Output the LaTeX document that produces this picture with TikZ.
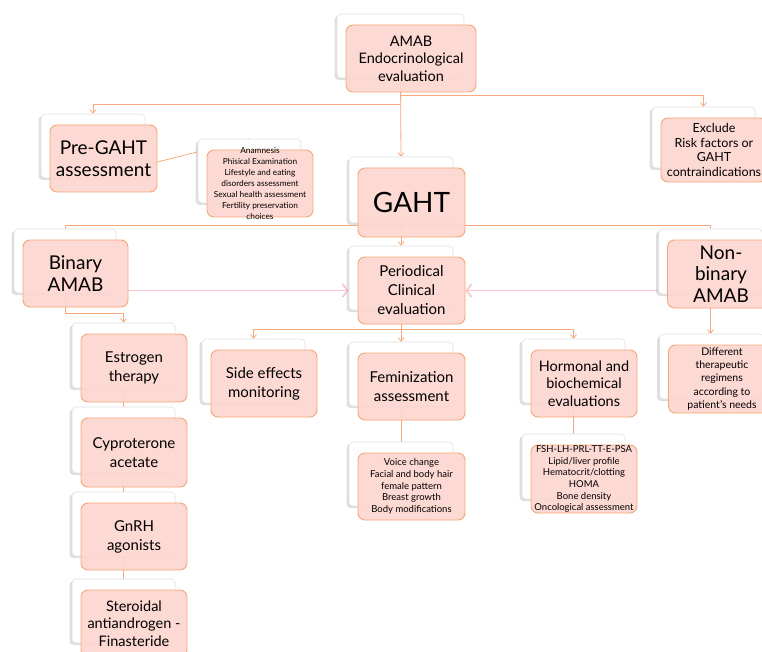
\documentclass[tikz,border=0pt]{standalone}
\usepackage{fontspec}
\setmainfont{Lato}
\usetikzlibrary{positioning, arrows.meta, calc, shadows, backgrounds}
\definecolor{cardpink}{RGB}{253,214,208}
\definecolor{cardedge}{RGB}{245,166,120}
\definecolor{linkorange}{RGB}{247,168,124}
\definecolor{flowpink}{RGB}{248,198,208}

\tikzset{
  backcard/.style={draw=black!12, fill=white, rounded corners=4pt, line width=0.6pt,
    drop shadow={shadow xshift=-2.5pt, shadow yshift=-2pt, opacity=0.25}},
  frontcard/.style={draw=cardedge, fill=cardpink, fill opacity=0.92, rounded corners=7pt, line width=0.9pt},
  cardtext/.style={align=center, inner sep=0pt, text=black},
  link/.style={draw=linkorange, line width=0.8pt},
  linkarrow/.style={link, -{Straight Barb[length=3.5pt, width=6pt]}},
  flow/.style={draw=flowpink, line width=1.8pt, -{Straight Barb[length=5pt, width=13pt]}},
  hugetext/.style={font=\fontsize{28}{32}\selectfont},
  bigtext/.style={font=\fontsize{19}{21.5}\selectfont},
  midtext/.style={font=\fontsize{15}{19}\selectfont},
  headtext/.style={font=\fontsize{14.5}{17.5}\selectfont},
  smalltext/.style={font=\fontsize{12.5}{14.7}\selectfont},
  notetext/.style={font=\fontsize{10.5}{13.3}\selectfont},
  listtext/.style={font=\fontsize{9.5}{11.7}\selectfont},
  tinytext/.style={font=\fontsize{8.3}{11}\selectfont}
}

% name, x, y, width, height, text style, text
\newcommand{\cardpair}[7]{%
  \node[backcard, minimum width=#4-3, minimum height=#5-3] (#1-b) at (#2-10.5,#3-12.5) {};
  \node[frontcard, minimum width=#4, minimum height=#5] (#1) at (#2,#3) {};
  \node[cardtext, #6] (#1-t) at (#1.center) {#7};
}

\begin{document}
\begin{tikzpicture}[x=1pt, y=-1pt]
    \useasboundingbox (0,0) rectangle (762,652);

    % top level
    \cardpair{amab}{411}{58.5}{130}{67}{headtext}{AMAB\\Endocrinological\\evaluation}
    \cardpair{pregaht}{103.5}{158.5}{107}{67}{bigtext}{Pre-GAHT\\assessment}
    \cardpair{detail}{260}{183.5}{106}{67}{tinytext}{Anamnesis\\Phisical Examination\\Lifestyle and eating\\disorders assessment\\Sexual health assessment\\Fertility preservation\\choices}
    \cardpair{exclude}{714}{150}{106}{64}{smalltext}{Exclude\\Risk factors or\\GAHT\\contraindications}
    \cardpair{gaht}{411.5}{202.5}{107}{69}{hugetext}{GAHT}

    % second level
    \cardpair{binary}{75.5}{273.5}{105}{67}{bigtext}{Binary\\AMAB}
    \cardpair{period}{411.5}{290.5}{107}{67}{midtext}{Periodical\\Clinical\\evaluation}
    \cardpair{nonbin}{721}{274}{107}{68}{bigtext}{Non-\\binary\\AMAB}

    % binary column
    \cardpair{estro}{134}{368}{106}{68}{midtext}{Estrogen\\therapy}
    \cardpair{cypro}{134}{452.5}{106}{69}{midtext}{Cyproterone\\acetate}
    \cardpair{gnrh}{134}{536.5}{106}{67}{midtext}{GnRH\\agonists}
    \cardpair{steroid}{134}{623.5}{106}{67}{headtext}{Steroidal\\antiandrogen -\\Finasteride}

    % evaluation branches
    \cardpair{side}{264}{383.5}{106}{67}{midtext}{Side effects\\monitoring}
    \cardpair{femin}{411.5}{386.5}{107}{67}{midtext}{Feminization\\assessment}
    \cardpair{hormon}{584}{383.5}{106}{67}{headtext}{Hormonal and\\biochemical\\evaluations}
    \cardpair{differ}{722}{379}{107}{68}{notetext}{Different\\therapeutic\\regimens\\according to\\patient's needs}
    \cardpair{voice}{411.5}{486.5}{107}{67}{listtext}{Voice change\\Facial and body hair\\female pattern\\Breast growth\\Body modifications}
    \cardpair{fsh}{584}{479}{106}{68}{listtext}{FSH-LH-PRL-TT-E-PSA\\Lipid/liver profile\\Hematocrit/clotting\\HOMA\\Bone density\\Oncological assessment}

    \begin{scope}[on background layer]
        \draw[linkarrow] (amab-b.south) -- (gaht-b.north);
        \draw[linkarrow] ($(amab-b.south)+(0,26)$) -| (pregaht-b.north);
        \draw[linkarrow] ($(amab-b.south)+(0,17)$) -| (exclude-b.north);
        \draw[link] (pregaht-b.south) -- (detail-b.north);

        \draw[link] (binary-b.north) |- ($(gaht-b.south)+(0,2)$) -| (nonbin-b.north);
        \draw[linkarrow] (gaht-b.south) -- (period-b.north);

        \draw[linkarrow] (binary-b.south) -- ++(0,20) -| (estro-b.north);
        \draw[link] (estro-b.south) -- (cypro-b.north);
        \draw[link] (cypro-b.south) -- (gnrh-b.north);
        \draw[link] (gnrh-b.south) -- (steroid-b.north);

        \draw[linkarrow] (period-b.south) -- (femin-b.north);
        \draw[linkarrow] ($(period-b.south)+(0,19)$) -| (side-b.north);
        \draw[linkarrow] ($(period-b.south)+(0,19)$) -| (hormon-b.north);
        \draw[link] (femin-b.south) -- (voice-b.north);
        \draw[link] (hormon-b.south) -- (fsh-b.north);
        \draw[linkarrow] (nonbin-b.south) -- (nonbin-b.south |- differ-b.north);

        \draw[flow] (binary.east |- period.center) -- (period-b.west |- period.center);
        \draw[flow] (nonbin-b.west |- period.center) -- (period.east);
    \end{scope}
\end{tikzpicture}
\end{document}
